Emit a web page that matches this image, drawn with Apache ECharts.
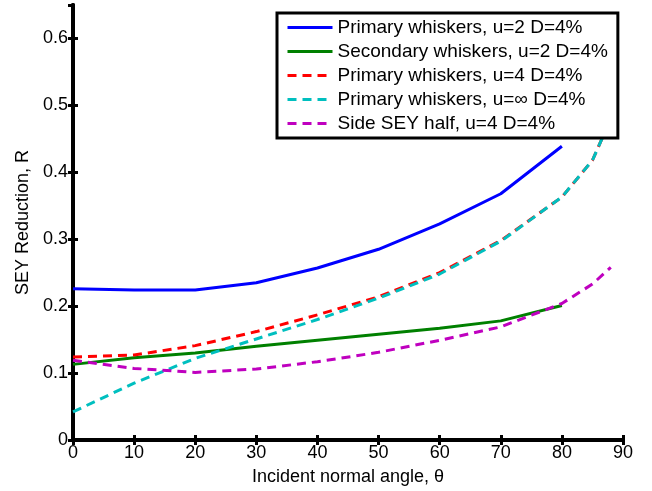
<!DOCTYPE html>
<html>
<head>
<meta charset="utf-8">
<script src="https://cdn.jsdelivr.net/npm/echarts@6/dist/echarts.min.js"></script>
<style>
  html, body { margin: 0; padding: 0; background: #fff; }
  #chart { width: 652px; height: 491px; }
</style>
</head>
<body>
<div id="chart"></div>
<script>
// incident angles (deg)
const anglesMain = [0, 10, 20, 30, 40, 50, 60, 70, 80];
const anglesLong = [0, 10, 20, 30, 40, 50, 60, 70, 80, 85, 88];

// SEY reduction values
const primaryU2 = [0.226, 0.224, 0.224, 0.235, 0.257, 0.285, 0.323, 0.368, 0.439];
const secondaryU2 = [0.113, 0.123, 0.130, 0.140, 0.149, 0.158, 0.167, 0.178, 0.201];
const primaryU4 = [0.124, 0.127, 0.141, 0.162, 0.187, 0.214, 0.250, 0.298, 0.363, 0.418, 0.48];
const primaryUinf = [0.042, 0.085, 0.122, 0.151, 0.180, 0.212, 0.248, 0.297, 0.363, 0.418, 0.48];
const sideHalfU4 = [0.119, 0.107, 0.101, 0.106, 0.117, 0.131, 0.149, 0.169, 0.204, 0.233, 0.258];

const seriesNames = [
  'Primary whiskers, u=2 D=4%',
  'Secondary whiskers, u=2 D=4%',
  'Primary whiskers, u=4 D=4%',
  'Primary whiskers, u=\u221e D=4%',
  'Side SEY half, u=4 D=4%'
];

const pair = (xs, ys) => ys.map((v, i) => [xs[i], v]);

const font = '"Liberation Sans", Arial, sans-serif';

const chart = echarts.init(document.getElementById('chart'));

function mkLine(name, data, color, dashed) {
  return {
    name: name,
    type: 'line',
    data: data,
    symbol: 'none',
    smooth: false,
    lineStyle: { color: color, width: 3, type: dashed ? [9, 6] : 'solid' },
    itemStyle: { color: color },
    z: 2
  };
}

const frameAxisLine = { show: true, lineStyle: { color: '#000', width: 4 } };
const frameTick = { show: true, inside: true, length: 5, lineStyle: { color: '#000', width: 3 } };

chart.setOption({
  backgroundColor: '#fff',
  animation: false,
  textStyle: { fontFamily: font },
  grid: { left: 73, right: 29, top: 5, bottom: 51, containLabel: false, outerBoundsMode: 'none' },
  legend: {
    orient: 'vertical',
    left: 277,
    top: 13,
    padding: [5, 10, 5, 9],
    itemWidth: 45,
    itemHeight: 14,
    itemGap: 5,
    backgroundColor: '#fff',
    borderColor: '#000',
    borderWidth: 3,
    itemStyle: { opacity: 0 },
    lineStyle: { width: 3 },
    textStyle: { fontFamily: font, fontSize: 19, color: '#000' },
    data: seriesNames,
    z: 10
  },
  xAxis: [{
    type: 'value',
    min: 0, max: 90, interval: 10,
    name: 'Incident normal angle, \u03b8',
    nameLocation: 'middle',
    nameGap: 28,
    nameTextStyle: { fontFamily: font, fontSize: 18, color: '#000' },
    axisLine: frameAxisLine,
    axisTick: frameTick,
    axisLabel: { fontFamily: font, fontSize: 18, color: '#000', margin: 4 },
    splitLine: { show: false }
  }, {
    type: 'value',
    position: 'top',
    min: 0, max: 90, interval: 10,
    axisLine: frameAxisLine,
    axisTick: frameTick,
    axisLabel: { show: false },
    splitLine: { show: false }
  }],
  yAxis: [{
    type: 'value',
    min: 0, max: 0.65, interval: 0.1,
    name: 'SEY Reduction, R',
    nameLocation: 'middle',
    nameGap: 36,
    nameTextStyle: { fontFamily: font, fontSize: 18, color: '#000' },
    axisLine: frameAxisLine,
    axisTick: frameTick,
    axisLabel: { fontFamily: font, fontSize: 18, color: '#000', margin: 5, showMaxLabel: false },
    splitLine: { show: false }
  }, {
    type: 'value',
    position: 'right',
    min: 0, max: 0.65, interval: 0.1,
    axisLine: frameAxisLine,
    axisTick: frameTick,
    axisLabel: { show: false },
    splitLine: { show: false }
  }],
  series: [
    mkLine(seriesNames[0], pair(anglesMain, primaryU2), '#0000ff', false),
    mkLine(seriesNames[1], pair(anglesMain, secondaryU2), '#008000', false),
    mkLine(seriesNames[2], pair(anglesLong, primaryU4), '#ff0000', true),
    mkLine(seriesNames[3], pair(anglesLong, primaryUinf), '#00bfbf', true),
    mkLine(seriesNames[4], pair(anglesLong, sideHalfU4), '#bf00bf', true)
  ]
});
</script>
</body>
</html>
